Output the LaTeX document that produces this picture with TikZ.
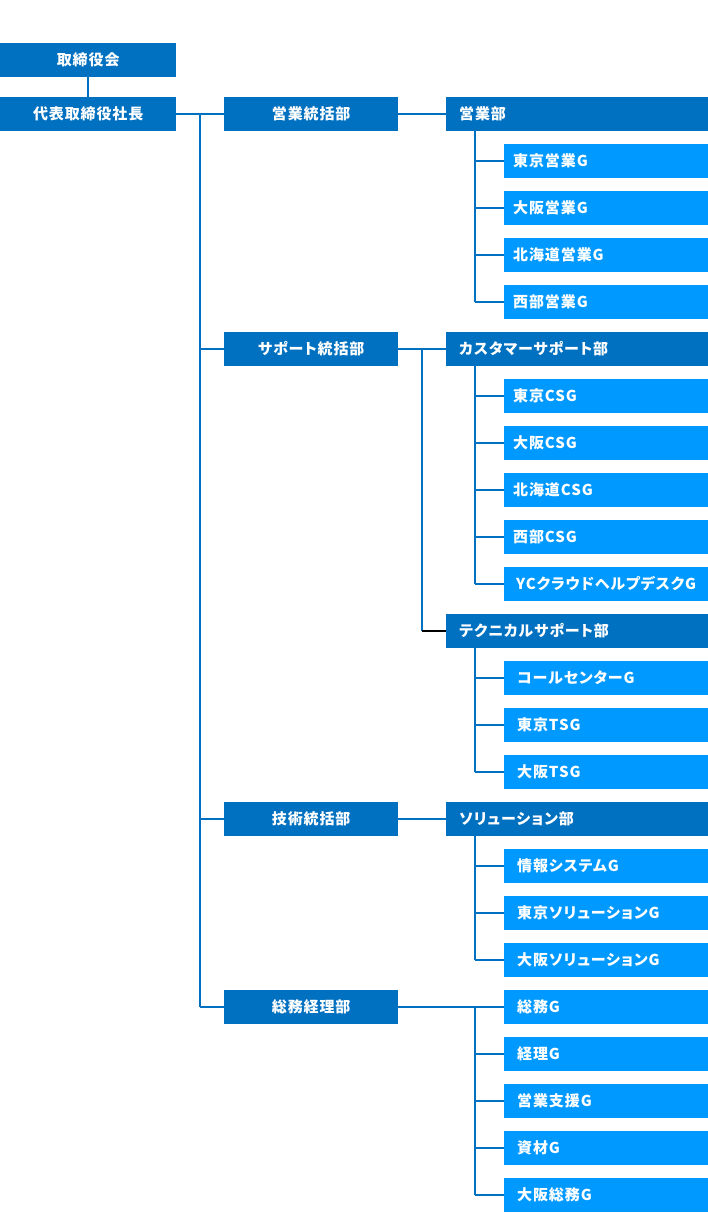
\documentclass[tikz,border=0pt]{standalone}
\usepackage{fontspec}
\setmainfont{Noto Sans CJK JP}[LetterSpace=6,RawFeature=+palt]
\usetikzlibrary{calc}
\definecolor{dk}{RGB}{0,112,192}
\definecolor{lt}{RGB}{0,153,255}
\tikzset{
  box/.style={fill=dk, text=white, font=\bfseries\fontsize{15}{18}\selectfont,
    minimum height=34pt, inner ysep=0pt, anchor=west},
  topbox/.style={box, minimum width=176pt, inner xsep=0pt},
  midbox/.style={box, minimum width=174pt, inner xsep=0pt},
  deptbox/.style={box, inner xsep=13pt, text width=236pt, align=left},
  grpbox/.style={box, fill=lt, inner xsep=#1, text width=204pt-2*#1, align=left},
  grpbox/.default=9pt,
  conn/.style={draw=dk, line width=2pt},
}
\begin{document}
\begin{tikzpicture}[x=1pt,y=1pt]
\useasboundingbox (0,0) rectangle (708,-1213);
% rows: y = 114 + 47 i
\node[topbox] (kai)  at (0,-60)  {取締役会};
\node[topbox] (pres) at (0,-114) {代表取締役社長};

\node[midbox] (eT)  at (224,-114) {営業統括部};
\node[midbox] (sT)  at (224,-349) {サポート統括部};
\node[midbox] (gT)  at (224,-819) {技術統括部};
\node[midbox] (aT)  at (224,-1007) {総務経理部};

\node[deptbox] (eD)  at (446,-114) {営業部};
\node[deptbox] (cD)  at (446,-349) {カスタマーサポート部};
\node[deptbox] (tD)  at (446,-631) {テクニカルサポート部};
\node[deptbox] (sD)  at (446,-819) {ソリューション部};

\node[grpbox] (e1) at (504,-161) {東京営業G};
\node[grpbox] (e2) at (504,-208) {大阪営業G};
\node[grpbox] (e3) at (504,-255) {北海道営業G};
\node[grpbox] (e4) at (504,-302) {西部営業G};

\node[grpbox] (c1) at (504,-396) {東京CSG};
\node[grpbox] (c2) at (504,-443) {大阪CSG};
\node[grpbox] (c3) at (504,-490) {北海道CSG};
\node[grpbox] (c4) at (504,-537) {西部CSG};
\node[grpbox=12pt] (c5) at (504,-584) {YCクラウドヘルプデスクG};

\node[grpbox=13pt] (t1) at (504,-678) {コールセンターG};
\node[grpbox=13pt] (t2) at (504,-725) {東京TSG};
\node[grpbox=13pt] (t3) at (504,-772) {大阪TSG};

\node[grpbox=13pt] (s1) at (504,-866) {情報システムG};
\node[grpbox=13pt] (s2) at (504,-913) {東京ソリューションG};
\node[grpbox=13pt] (s3) at (504,-960) {大阪ソリューションG};

\node[grpbox=13pt] (a1) at (504,-1007) {総務G};
\node[grpbox=13pt] (a2) at (504,-1054) {経理G};
\node[grpbox=13pt] (a3) at (504,-1101) {営業支援G};
\node[grpbox=13pt] (a4) at (504,-1148) {資材G};
\node[grpbox=13pt] (a5) at (504,-1195) {大阪総務G};

\coordinate (tx) at (200,0);
\coordinate (sx) at (422,0);
\coordinate (vx) at (475,0);

% top
\draw[conn] (kai.south) -- (pres.north);
\draw[conn] (pres.east) -- (eT.west);
\draw[conn] (tx |- pres.east) -- (tx |- aT.west);
\foreach \n in {sT,gT,aT} \draw[conn] (tx |- \n.west) -- (\n.west);

% sales
\draw[conn] (eT.east) -- (eD.west);
\draw[conn] (vx |- eD.south) -- (vx |- e4.west);
\foreach \n in {e1,e2,e3,e4} \draw[conn] (vx |- \n.west) -- (\n.west);

% support
\draw[conn] (sT.east) -- (cD.west);
\draw[conn] (sx |- cD.west) -- (sx |- tD.west);
\draw[line width=2pt, black] (sx |- tD.west) -- (tD.west);
\draw[conn] (vx |- cD.south) -- (vx |- c5.west);
\foreach \n in {c1,c2,c3,c4,c5} \draw[conn] (vx |- \n.west) -- (\n.west);
\draw[conn] (vx |- tD.south) -- (vx |- t3.west);
\foreach \n in {t1,t2,t3} \draw[conn] (vx |- \n.west) -- (\n.west);

% tech
\draw[conn] (gT.east) -- (sD.west);
\draw[conn] (vx |- sD.south) -- (vx |- s3.west);
\foreach \n in {s1,s2,s3} \draw[conn] (vx |- \n.west) -- (\n.west);

% admin
\draw[conn] (aT.east) -- (a1.west);
\draw[conn] (vx |- a1.west) -- (vx |- a5.west);
\foreach \n in {a2,a3,a4,a5} \draw[conn] (vx |- \n.west) -- (\n.west);
\end{tikzpicture}
\end{document}
